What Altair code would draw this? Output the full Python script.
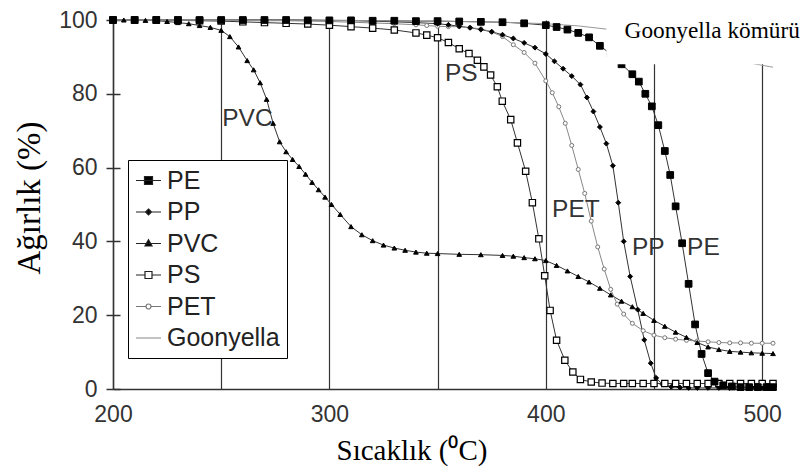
import altair as alt
import pandas as pd

series_names = ["PE", "PP", "PVC", "PS", "PET", "Goonyella"]

pe_t = [200, 210, 220, 230, 240, 250, 260, 270, 280, 290, 300, 310, 320, 330, 340, 350, 360, 370, 380, 390, 400,
        405, 410, 415, 420, 425, 430, 435, 440,
        443, 446, 449, 452, 455, 457.5, 460, 463, 466, 469, 472, 475, 478,
        482, 486, 490, 494, 498, 502, 505]
pe_w = [100, 100, 100, 100, 100, 100, 100, 100, 100, 99.9, 99.9, 99.9, 99.8, 99.8, 99.7, 99.7, 99.6, 99.5, 99.4, 99.1, 98.6,
        98.1, 97.4, 96.5, 95.3, 93, 90.8, 88, 85.3,
        83.3, 80, 76.6, 71.5, 64.5, 58, 49.5, 39.5, 28.5, 17.5, 9.5, 4.3, 2,
        1, 0.7, 0.5, 0.5, 0.5, 0.5, 0.5]

pp_t = [200, 210, 220, 230, 240, 250, 260, 270, 280, 290, 300, 310, 320, 330, 340, 350,
        355, 360, 365, 370, 375, 380, 385, 390, 395, 400, 404, 408, 412, 416, 419, 422, 425, 428, 431,
        433.5, 436, 439, 442.5, 445.5, 448.5, 451, 454, 458, 462,
        466, 470, 475, 480, 485, 490, 495, 500, 505]
pp_w = [100, 100, 100, 100, 100, 100, 100, 100, 100, 100, 99.9, 99.8, 99.7, 99.5, 99.3, 99,
        98.7, 98.3, 97.9, 97.4, 96.8, 96, 95, 93.8, 92.5, 90.8, 88.8, 86.8, 84.8, 82.5, 79, 75.2, 71, 66.5, 60.5,
        50.5, 40, 30.5, 21.5, 13.3, 7, 3, 1.2, 0.6, 0.4,
        0.3, 0.3, 0.3, 0.3, 0.3, 0.3, 0.3, 0.3, 0.3]

pvc_t = [200, 205, 210, 215, 220, 225, 230, 235, 240, 245, 250, 254, 258, 262, 265, 268, 271, 274, 277, 280,
         283, 286, 289, 292, 295, 298, 301, 305, 310, 315, 320, 325, 330, 335, 340, 345, 350, 360, 370, 380,
         385, 390, 395, 400, 405, 410, 415, 420, 425, 430, 435, 440, 445, 450, 455, 460, 465, 470, 475, 480,
         485, 490, 495, 500, 505]
pvc_w = [100, 100, 100, 99.9, 99.8, 99.6, 99.3, 99, 98.5, 98, 97.2, 95.5, 92.7, 89, 86.5, 83, 78.5, 72, 67, 64.3,
         62.2, 60.3, 58.2, 56, 54, 52, 50, 47.3, 44, 41.8, 40.2, 39, 38.2, 37.6, 37.1, 36.8, 36.7, 36.5, 36.4, 36.2,
         36, 35.6, 35.3, 34.8, 33.5, 32, 30.5, 29, 27.3, 25.5, 23.8, 22.3, 20.5, 18.6, 17, 15.4, 14, 12.6, 11.4, 10.7,
         10.2, 10, 9.8, 9.7, 9.6]

ps_t = [200, 210, 220, 230, 240, 250, 260, 270, 280, 290, 300, 310, 320, 330, 340, 345, 350, 355, 360,
        364.5, 368.4, 371.4, 374.5, 377.6, 379.9, 383.8, 386.9, 390.7, 393.8, 396.8, 399.5, 402, 405, 408.8,
        412.5, 416, 421, 426, 431, 436,
        440, 445, 450, 455, 460, 465, 470, 475, 480, 485, 490, 495, 500, 505]
ps_w = [100, 100, 100, 99.9, 99.8, 99.7, 99.5, 99.3, 99.1, 98.9, 98.6, 98.2, 97.8, 97.3, 96.5, 95.9, 95.2, 93.9, 92.2,
        90.9, 89.1, 87.3, 85.1, 81.9, 78, 73, 66.7, 59, 50.5, 40.7, 30.7, 21.3, 13.2, 7.8,
        4.6, 2.6, 1.9, 1.6, 1.5, 1.5,
        1.5, 1.5, 1.5, 1.5, 1.5, 1.5, 1.5, 1.5, 1.5, 1.5, 1.5, 1.5, 1.5, 1.5]

pet_t = [200, 210, 220, 230, 240, 250, 260, 270, 280, 290, 300, 310, 320, 330, 340,
         345, 350, 355, 360, 365, 370, 375, 380, 385, 390, 395, 400, 403, 406, 409, 412, 415, 418, 421, 424,
         427, 430, 433, 436, 440, 445, 450, 455, 460, 465, 470, 475, 480, 485, 490, 495, 500, 505]
pet_w = [100, 100, 100, 100, 100, 99.9, 99.9, 99.8, 99.8, 99.7, 99.6, 99.4, 99.2, 99, 98.7,
         98.5, 98.3, 98.2, 98.2, 97.9, 97.6, 96.8, 95.5, 93.3, 91.2, 88.3, 83.5, 80.3, 76.5, 72, 66, 59.5, 53, 45.5, 38.5,
         32.5, 27, 23, 20.3, 17.8, 15.8, 14.6, 13.9, 13.5, 13.2, 13, 12.8, 12.6, 12.5, 12.5, 12.4, 12.4, 12.4]

goon_t = [200, 250, 300, 350, 380, 400, 415, 430, 445, 460, 475, 490, 505]
goon_w = [100, 100, 99.9, 99.7, 99.4, 99, 98.4, 97.4, 95.5, 93.3, 91, 88.8, 87.2]

label_names = ["PVC", "PS", "PET", "PP", "PE"]
label_t = [250.5, 353.4, 402.9, 439.8, 465.3]
label_w = [71.4, 83.5, 46.5, 36.2, 36.2]

note_text = ["Goonyella kömürü"]
note_t = [436.4]
note_w = [95.0]
box_t = [428]
box_t2 = [530]
box_w = [88]
box_w2 = [106]

x_title = "Sıcaklık  (⁰C)"
y_title = "Ağırlık (%)"

W, H = 660, 369

rows = []
for name, ts, ws in [("PE", pe_t, pe_w), ("PP", pp_t, pp_w), ("PVC", pvc_t, pvc_w),
                     ("PS", ps_t, ps_w), ("PET", pet_t, pet_w), ("Goonyella", goon_t, goon_w)]:
    assert len(ts) == len(ws), name
    for t, w in zip(ts, ws):
        rows.append({"seri": name, "t": t, "w": w})
df = pd.DataFrame(rows)
df_lab = pd.DataFrame({"txt": label_names, "t": label_t, "w": label_w})
df_note = pd.DataFrame({"txt": note_text, "t": note_t, "w": note_w})
df_box = pd.DataFrame({"t": box_t, "t2": box_t2, "w": box_w, "w2": box_w2})
df_xt = pd.DataFrame({"txt": [x_title]})
df_yt = pd.DataFrame({"txt": [y_title]})

x_scale = alt.Scale(domain=[200, 505], nice=False, zero=False)
y_scale = alt.Scale(domain=[0, 100], nice=False, zero=False)

x_axis = alt.Axis(values=[200, 250, 300, 350, 400, 450, 500],
                  labelExpr="datum.value % 100 == 0 ? datum.label : ''",
                  labelOverlap=False, labelFlush=False,
                  grid=True, gridColor="#333333", gridWidth=1.2,
                  ticks=False, tickSize=0,
                  domainColor="#333333", domainWidth=1.5,
                  labelFont="Liberation Sans", labelFontSize=23, labelColor="#333333", labelPadding=14,
                  title=None)
y_axis = alt.Axis(values=[0, 20, 40, 60, 80, 100], grid=False,
                  tickSize=7, tickColor="#333333", tickWidth=1.5,
                  domainColor="#333333", domainWidth=1.5,
                  labelFont="Liberation Sans", labelFontSize=23, labelColor="#333333", labelPadding=9,
                  title=None)

X = alt.X("t:Q", scale=x_scale, axis=x_axis)
Y = alt.Y("w:Q", scale=y_scale, axis=y_axis)

line_colors = ["#333333", "#333333", "#333333", "#333333", "#888888", "#999999"]
lines = alt.Chart(df).mark_line(strokeWidth=1).encode(
    x=X, y=Y,
    stroke=alt.Stroke("seri:N", scale=alt.Scale(domain=series_names, range=line_colors), legend=None),
)

marker_style = {
    "PE": dict(shape="square", size=45, fill="black", stroke="black", strokeWidth=1),
    "PP": dict(shape="diamond", size=24, fill="black", stroke="black", strokeWidth=1),
    "PVC": dict(shape="triangle-up", size=22, fill="black", stroke="black", strokeWidth=1),
    "PS": dict(shape="square", size=40, fill="white", stroke="black", strokeWidth=1.2),
    "PET": dict(shape="circle", size=16, fill="white", stroke="#777777", strokeWidth=1),
}
point_layers = []
for name in ["PET", "PVC", "PP", "PS", "PE"]:
    st = marker_style[name]
    point_layers.append(
        alt.Chart(df).transform_filter(alt.datum.seri == name)
        .mark_point(filled=True, opacity=1, **st)
        .encode(x=X, y=Y)
    )

legend_paths = [
    "M-1,0H1M-0.32,-0.32H0.32V0.32H-0.32Z",
    "M-1,0H1M0,-0.24L0.24,0L0,0.24L-0.24,0Z",
    "M-1,0H1M0,-0.3L0.28,0.2L-0.28,0.2Z",
    "M-1,0H-0.28M0.28,0H1M-0.28,-0.28H0.28V0.28H-0.28Z",
    "M-1,0H-0.2M0.2,0H1M0.2,0A0.2,0.2,0,1,1,-0.2,0A0.2,0.2,0,1,1,0.2,0Z",
    "M-1,0H1",
]
legend_fill = ["black", "black", "black", "white", "white", "transparent"]
legend_stroke = ["#222222", "#222222", "#222222", "#222222", "#777777", "#999999"]

leg = alt.Legend(orient="none", legendX=15, legendY=140, title=None, padding=7,
                 strokeColor="black", fillColor="white",
                 symbolSize=625, symbolStrokeWidth=1.2, symbolOpacity=1,
                 symbolFillColor="white", symbolStrokeColor="black",
                 labelFont="Liberation Sans", labelFontSize=25, labelColor="#222222",
                 labelOffset=5, rowPadding=4.5)

legend_layer = alt.Chart(df).transform_filter("false").mark_point(filled=True).encode(
    x=X, y=Y,
    shape=alt.Shape("seri:N", scale=alt.Scale(domain=series_names, range=legend_paths), legend=leg),
    fill=alt.Fill("seri:N", scale=alt.Scale(domain=series_names, range=legend_fill), legend=leg),
    stroke=alt.Stroke("seri:N", scale=alt.Scale(domain=series_names, range=legend_stroke), legend=leg),
)

labels = alt.Chart(df_lab).mark_text(align="left", baseline="alphabetic", font="Liberation Sans",
                                     fontSize=24.5, color="#333333").encode(x=X, y=Y, text="txt:N")

box = alt.Chart(df_box).mark_rect(fill="white", strokeWidth=0).encode(
    x=X, x2="t2:Q", y=Y, y2="w2:Q")

note = alt.Chart(df_note).mark_text(align="left", baseline="alphabetic", font="Liberation Serif",
                                    fontSize=23.3, color="black").encode(x=X, y=Y, text="txt:N")

# axis titles as text placed relative to the plot area
xt = alt.Chart(df_xt).mark_text(align="center", baseline="alphabetic", font="Times New Roman",
                                fontSize=29, color="black").encode(
    x=alt.value(299), y=alt.value(H + 71), text="txt:N")
yt = alt.Chart(df_yt).mark_text(align="center", baseline="middle", font="serif",
                                fontSize=33, color="black", angle=270).encode(
    x=alt.value(-83.5), y=alt.value(178), text="txt:N")

main = alt.layer(lines, *point_layers, labels, box, note, xt, yt, legend_layer).resolve_scale(
    shape="independent", fill="independent", stroke="independent")

inner_ticks = alt.Chart(df).transform_filter("false").mark_point().encode(
    y=alt.Y("w:Q", scale=y_scale,
            axis=alt.Axis(orient="left", offset=-7, values=[0, 20, 40, 60, 80, 100], domain=False,
                          labels=False, grid=False, tickSize=7, tickColor="#333333", tickWidth=1.5,
                          title=None))
)

chart = alt.layer(main, inner_ticks).resolve_axis(y="independent").properties(
    width=W, height=H,
    autosize=alt.AutoSizeParams(type="none"),
    padding={"left": 105, "top": 12, "right": 29, "bottom": 77},
    background="white",
).configure_view(stroke=None)

chart.save("out.html", embed_options={"renderer": "svg", "actions": False})
